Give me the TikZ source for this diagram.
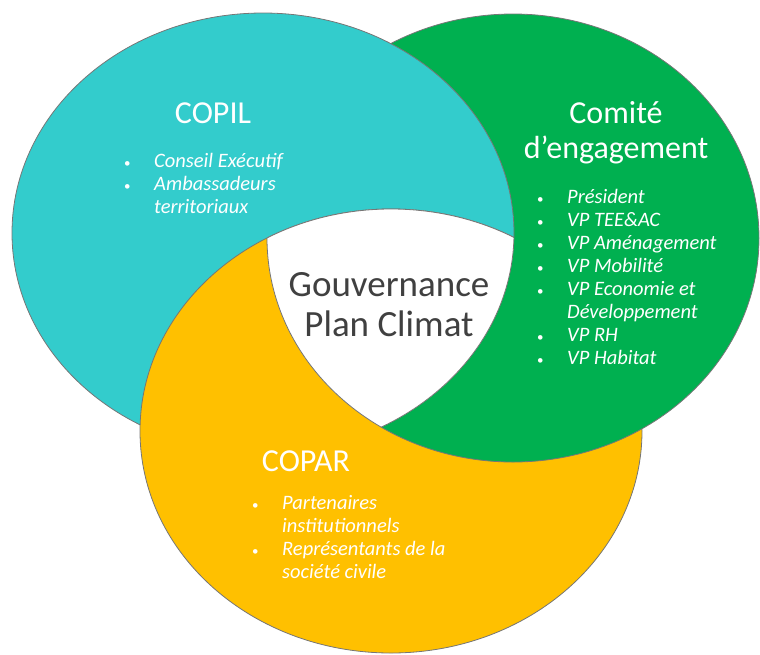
\documentclass[tikz,border=0pt]{standalone}
\usepackage{fontspec}
\setmainfont{Carlito}

\definecolor{copilTeal}{RGB}{51,204,204}
\definecolor{comiteGreen}{RGB}{0,176,80}
\definecolor{coparGold}{RGB}{255,192,0}
\definecolor{rimGray}{RGB}{118,118,118}
\definecolor{coreText}{RGB}{64,64,64}

\newcommand{\bul}{\makebox[30pt][l]{\fontsize{13}{13}\selectfont\upshape\textbullet}}
\newcommand{\ind}{\hspace*{30pt}}
\newcommand{\copilShape}{(263,233) ellipse [x radius=251, y radius=220]}
\newcommand{\comiteShape}{(513,238) ellipse [x radius=246, y radius=224]}
\newcommand{\coparShape}{(391,431) ellipse [x radius=251, y radius=222]}
\newcommand{\pageArea}{(-20,-20) rectangle (800,700)}

\begin{document}
\begin{tikzpicture}
    [
        x=1pt, y=-1pt,
        rim/.style={draw=rimGray, line width=0.8pt,},
        title/.style={text=white, font=\fontsize{32}{35}\selectfont, align=center,},
        items/.style={text=white, font=\fontsize{20.5}{23}\selectfont\itshape, align=left, anchor=west, inner sep=0pt,},
        core/.style={text=coreText, font=\fontsize{37}{40}\selectfont, align=center,},
    ]
    \useasboundingbox (0,0) rectangle (760,654);

    % circles: COPIL under COPAR, COPAR under Comite, Comite under COPIL
    \fill[copilTeal] \copilShape;
    \fill[coparGold] \coparShape;
    \draw[rim] \coparShape;
    \begin{scope}[even odd rule]
        \clip \pageArea \copilShape;
        \fill[comiteGreen] \comiteShape;
        \draw[rim] \comiteShape;
    \end{scope}
    \begin{scope}[even odd rule]
        \clip \pageArea \coparShape;
        \draw[rim] \copilShape;
    \end{scope}

    % white core
    \begin{scope}
        \clip \copilShape; \clip \coparShape;
        \fill[white] \comiteShape;
    \end{scope}

    % rims of the core
    \begin{scope}
        \clip \comiteShape; \clip \coparShape;
        \draw[rim] \copilShape;
    \end{scope}
    \begin{scope}
        \clip \copilShape; \clip \coparShape;
        \draw[rim] \comiteShape;
    \end{scope}
    \begin{scope}
        \clip \copilShape; \clip \comiteShape;
        \draw[rim] \coparShape;
    \end{scope}

    % COPIL
    \node (copil) at (213,113) [title] {COPIL};
    \node (copilList) at (124,183) [items]
        {\bul Conseil Exécutif\\ \bul Ambassadeurs\\ \ind territoriaux};

    % Comite
    \node (comite) at (616,133) [title] {Comité\\d’engagement};
    \node (comiteList) at (537,277) [items]
        {\bul Président\\ \bul VP TEE\&AC\\ \bul VP Aménagement\\ \bul VP Mobilité\\
         \bul VP Economie et\\ \ind Développement\\ \bul VP RH\\ \bul VP Habitat};

    % COPAR
    \node (copar) at (306,461) [title] {COPAR};
    \node (coparList) at (252,537) [items]
        {\bul Partenaires\\ \ind institutionnels\\ \bul Représentants de la\\ \ind société civile};

    % core
    \node (core) at (389,305) [core] {Gouvernance\\Plan Climat};

\end{tikzpicture}
\end{document}
